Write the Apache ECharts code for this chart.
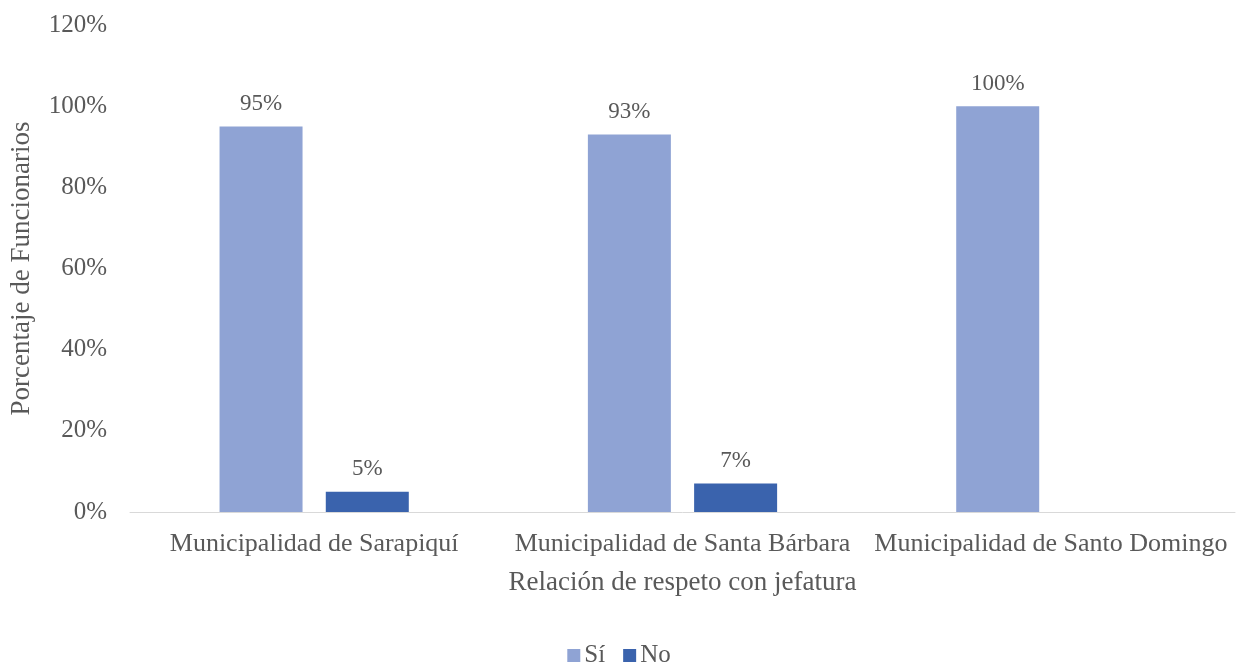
<!DOCTYPE html>
<html>
<head>
<meta charset="utf-8">
<script src="https://cdn.jsdelivr.net/npm/echarts@6/dist/echarts.min.js"></script>
<style>
  html, body { margin: 0; padding: 0; background: #fff; }
  #chart { width: 1238px; height: 663px; }
</style>
</head>
<body>
<div id="chart"></div>
<script>
var categories = ['Municipalidad de Sarapiquí', 'Municipalidad de Santa Bárbara', 'Municipalidad de Santo Domingo'];
var seriesNames = ['Sí', 'No'];
var siData = [95, 93, 100];
var noData = [5, 7, null];
var colors = ['#8FA3D4', '#3A63AD'];

var font = '"Liberation Serif", "Times New Roman", serif';
var txt = '#595959';

var myChart = echarts.init(document.getElementById('chart'));
var option = {
    animation: false,
    textStyle: { fontFamily: font },
    color: colors,
    grid: { left: 130, right: 3, top: 25, bottom: 151, containLabel: false },
    legend: {
        bottom: -10,
        left: 'center',
        itemWidth: 13,
        itemHeight: 13,
        itemGap: 18,
        icon: 'rect',
        textStyle: { color: txt, fontSize: 25, fontFamily: font, padding: [0, 0, 0, -1] },
        data: seriesNames
    },
    xAxis: {
        type: 'category',
        data: categories,
        name: 'Relación de respeto con jefatura',
        nameLocation: 'middle',
        nameGap: 57,
        nameTextStyle: { color: txt, fontSize: 27, fontFamily: font },
        axisTick: { show: false },
        axisLine: { lineStyle: { color: '#d9d9d9', width: 1 } },
        axisLabel: { color: txt, fontSize: 26, fontFamily: font, margin: 19, interval: 0 }
    },
    yAxis: {
        type: 'value',
        min: 0,
        max: 120,
        interval: 20,
        name: 'Porcentaje de Funcionarios',
        nameLocation: 'middle',
        nameGap: 95,
        nameTextStyle: { color: txt, fontSize: 27, fontFamily: font },
        axisLine: { show: false },
        axisTick: { show: false },
        splitLine: { show: false },
        axisLabel: { color: txt, fontSize: 25, fontFamily: font, margin: 23, formatter: '{value}%' }
    },
    series: [
        {
            name: seriesNames[0],
            type: 'bar',
            barWidth: 83,
            barGap: '28%',
            data: siData,
            label: { show: true, position: 'top', distance: 11, color: txt, fontSize: 23, fontFamily: font, formatter: '{c}%' }
        },
        {
            name: seriesNames[1],
            type: 'bar',
            barWidth: 83,
            barGap: '28%',
            data: noData,
            label: { show: true, position: 'top', distance: 11, color: txt, fontSize: 23, fontFamily: font, formatter: '{c}%' }
        }
    ]
};
myChart.setOption(option);
</script>
</body>
</html>
